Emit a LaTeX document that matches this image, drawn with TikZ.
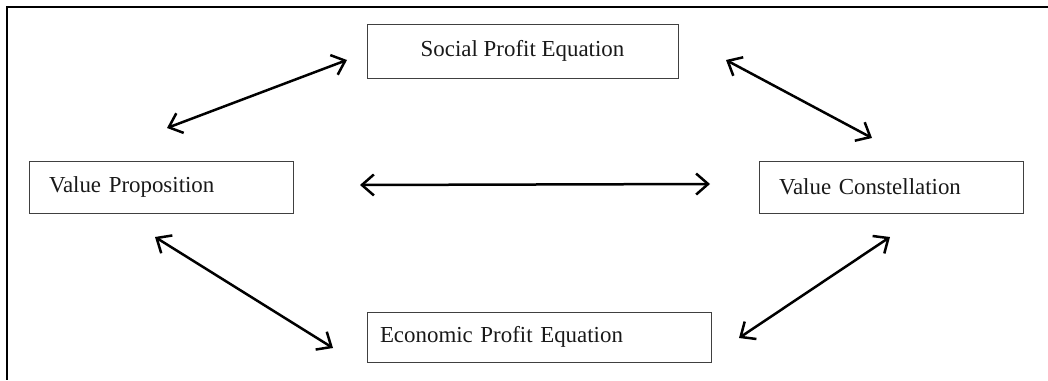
\documentclass[tikz,border=0pt]{standalone}
\usepackage{fontspec}
\setmainfont{Liberation Serif}
\usetikzlibrary{arrows.meta}
\begin{document}
\begin{tikzpicture}[x=1pt,y=-1pt,
  compbox/.style={draw=black!75, line width=1pt, fill=white, minimum height=52pt, inner ysep=0pt,
    font=\fontsize{22.9}{26}\selectfont, text=black!90},
  leftbox/.style={compbox, align=left, inner xsep=20pt},
  link/.style={line width=2.5pt, {Straight Barb[length=12pt,width=21pt]}-{Straight Barb[length=12pt,width=21pt]}},
  frameline/.style={line width=2pt}]
\useasboundingbox (0,0) rectangle (1048,380);
% frame
\coordinate (fTR) at (1048,7);
\coordinate (fTL) at (7,7);
\coordinate (fBL) at (7,380);
\draw[frameline] (fTR) -- (fTL) -- (fBL);
% nodes
\node[leftbox, text width=224pt] (vp) at (161,187) {Value Proposition};
\node[leftbox, text width=224pt] (vc) at (891,187) {Value Constellation};
\node[compbox, minimum width=311pt, minimum height=54pt] (sp) at (522.5,51) {Social Profit Equation};
\node[compbox, align=left, inner xsep=13pt, text width=318pt, minimum height=50pt] (ep) at (539,337) {Economic Profit Equation};
% connector end points
\coordinate (a1) at (167,128);
\coordinate (a2) at (347,60);
\coordinate (b1) at (726,60);
\coordinate (b2) at (872,138);
\coordinate (c1) at (360,185);
\coordinate (c2) at (710,184);
\coordinate (d1) at (155,237);
\coordinate (d2) at (333,348);
\coordinate (e1) at (739,338);
\coordinate (e2) at (890,237);
\draw[link] (a1) -- (a2);
\draw[link] (b1) -- (b2);
\draw[link] (c1) -- (c2);
\draw[link] (d1) -- (d2);
\draw[link] (e1) -- (e2);
\end{tikzpicture}
\end{document}
